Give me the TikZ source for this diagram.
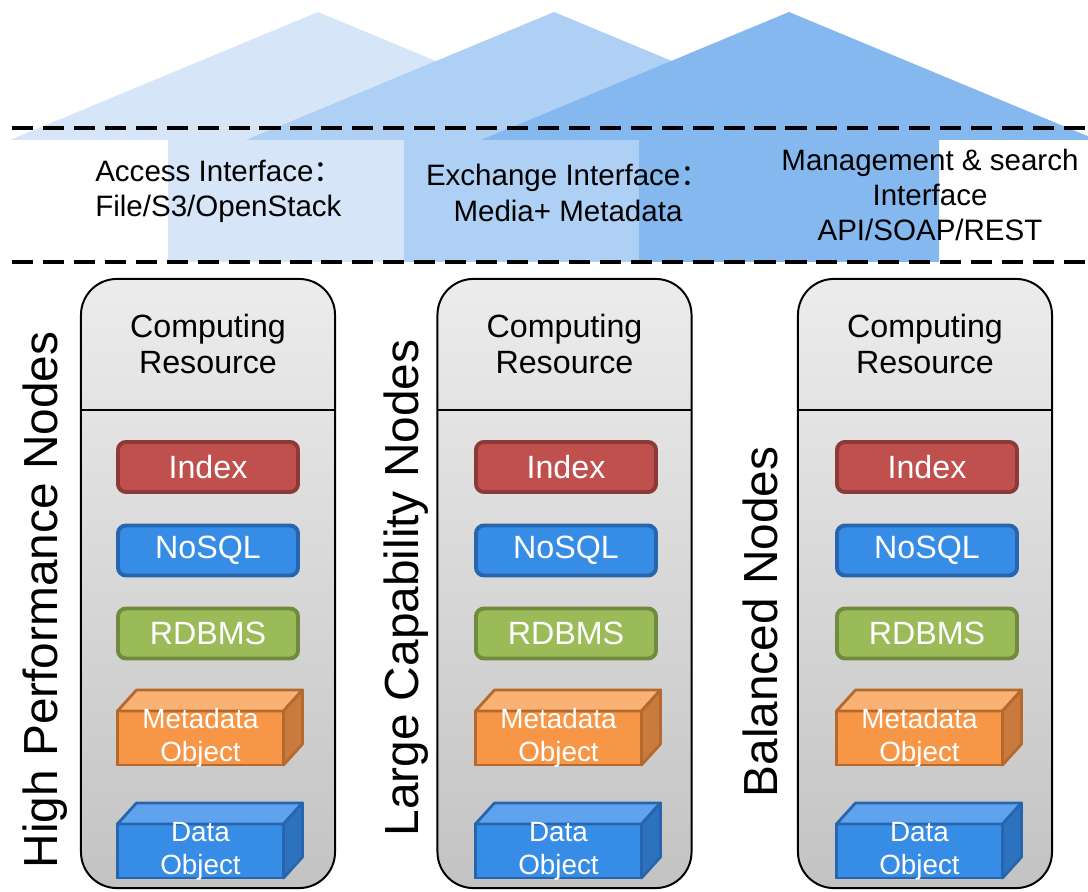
\documentclass[tikz,border=0pt]{standalone}
\usepackage{fontspec}
\setmainfont{Liberation Sans}
\newfontfamily\cjk{Noto Sans CJK SC}
\usepackage{xcolor}
\usepackage{tikz}
\usetikzlibrary{arrows,positioning,shapes}

\definecolor{arrowA}{HTML}{D6E6F8}
\definecolor{arrowB}{HTML}{AED0F4}
\definecolor{arrowC}{HTML}{86B8F0}
\definecolor{colTop}{HTML}{ECECEC}
\definecolor{colBot}{HTML}{C3C3C3}
\definecolor{indexFill}{HTML}{C0504D}
\definecolor{indexLine}{HTML}{8C3A38}
\definecolor{nosqlFill}{HTML}{378DE6}
\definecolor{nosqlLine}{HTML}{2765AE}
\definecolor{rdbmsFill}{HTML}{9BBB59}
\definecolor{rdbmsLine}{HTML}{718B3E}
\definecolor{metaFront}{HTML}{F79646}
\definecolor{metaTop}{HTML}{FAB274}
\definecolor{metaSide}{HTML}{C87B3C}
\definecolor{metaLine}{HTML}{B5692F}
\definecolor{dataFront}{HTML}{378DE6}
\definecolor{dataTop}{HTML}{5FA3EE}
\definecolor{dataSide}{HTML}{2D72BF}
\definecolor{dataLine}{HTML}{2766AF}

% cuboid: name, position, colour set, text
\newcommand{\cuboid}[4]{%
    \node [cube, fill=#3Front, draw=#3Line] (#1) at #2 {};
    \filldraw [fill=#3Top, draw=#3Line, line width=2pt, line join=round] (#1.north west) -- ++(19,-21) -- ++(166,0) -- (#1.north east) -- cycle;
    \filldraw [fill=#3Side, draw=#3Line, line width=2pt, line join=round] (#1.north east) -- ++(19,-21) -- ++(0,54) -- (#1.south east) -- cycle;
    \node [cubetext] (#1text) at (#1) {#4};
}

\begin{document}
\begin{tikzpicture}[x=0.025cm, y=-0.025cm]
    % Define styles
    \tikzstyle{column} = [rectangle, draw, line width=1.4pt, rounded corners=0.9cm, minimum width=6.35cm, minimum height=15.225cm, top color=colTop, bottom color=colBot]
    \tikzstyle{header} = [rectangle, minimum width=6.35cm, minimum height=3.3cm, inner sep=0pt, align=center, font=\fontsize{22.9}{26}\selectfont]
    \tikzstyle{store} = [rectangle, rounded corners=0.2cm, line width=2.8pt, minimum width=4.5cm, minimum height=1.25cm, text=white, font=\fontsize{22.9}{26}\selectfont]
    \tikzstyle{cube} = [rectangle, line width=2pt, outer sep=0pt, minimum width=4.15cm, minimum height=1.35cm]
    \tikzstyle{cubetext} = [align=center, text=white, inner sep=0pt, font=\fontsize{19.8}{23.5}\selectfont]
    \tikzstyle{dashline} = [line width=2.8pt, dash pattern=on 15pt off 7pt]
    \tikzstyle{vlabel} = [rotate=90, anchor=base, inner sep=0pt, font=\fontsize{34}{40}\selectfont]
    \tikzstyle{iface} = [inner sep=0pt, font=\fontsize{21}{25}\selectfont]

    \useasboundingbox (0,0) rectangle (1088,892);

    % Arrows
    \fill [arrowA] (168,262) -- (168,140) -- (10,140) -- (318,12) -- (626,140) -- (468,140) -- (468,262) -- cycle;
    \fill [arrowB] (404,262) -- (404,140) -- (246,140) -- (554,12) -- (862,140) -- (704,140) -- (704,262) -- cycle;
    \fill [arrowC] (639,262) -- (639,140) -- (481,140) -- (789,12) -- (1097,140) -- (939,140) -- (939,262) -- cycle;

    % Dashed lines
    \coordinate (d1a) at (12,128);
    \coordinate (d1b) at (1088,128);
    \coordinate (d2a) at (12,262);
    \coordinate (d2b) at (1088,262);
    \draw [dashline] (d1a) -- (d1b);
    \draw [dashline] (d2a) -- (d2b);

    % Interfaces
    \node [iface, anchor=west, align=left] (access) at (95,191) {Access Interface{\cjk ：}\\File/S3/OpenStack};
    \node [iface, align=center] (exchange) at (568,193) {Exchange Interface{\cjk ：}\\Media+ Metadata};
    \node [iface, align=center] (manage) at (930,195) {Management \& search\\Interface\\API/SOAP/REST};

    % Columns
    \node [column] (col1) at (208,583.5) {};
    \node [column] (col2) at (564.5,583.5) {};
    \node [column] (col3) at (925,583.5) {};

    \node [header] (hdr1) at (208,344) {Computing\\Resource};
    \node [header] (hdr2) at (564.5,344) {Computing\\Resource};
    \node [header] (hdr3) at (925,344) {Computing\\Resource};
    \draw [line width=1.4pt] (hdr1.south west) -- (hdr1.south east);
    \draw [line width=1.4pt] (hdr2.south west) -- (hdr2.south east);
    \draw [line width=1.4pt] (hdr3.south west) -- (hdr3.south east);

    % Stores
    \node [store, fill=indexFill, draw=indexLine] (index1) at (208,467) {Index};
    \node [store, fill=nosqlFill, draw=nosqlLine] (nosql1) at (208,550.5) {NoSQL};
    \node [store, fill=rdbmsFill, draw=rdbmsLine] (rdbms1) at (208,633.5) {RDBMS};
    \node [store, fill=indexFill, draw=indexLine] (index2) at (566,467) {Index};
    \node [store, fill=nosqlFill, draw=nosqlLine] (nosql2) at (566,550.5) {NoSQL};
    \node [store, fill=rdbmsFill, draw=rdbmsLine] (rdbms2) at (566,633.5) {RDBMS};
    \node [store, fill=indexFill, draw=indexLine] (index3) at (927,467) {Index};
    \node [store, fill=nosqlFill, draw=nosqlLine] (nosql3) at (927,550.5) {NoSQL};
    \node [store, fill=rdbmsFill, draw=rdbmsLine] (rdbms3) at (927,633.5) {RDBMS};

    % Objects
    \cuboid{meta1}{(200.5,738)}{meta}{Metadata\\Object}
    \cuboid{data1}{(200.5,851)}{data}{Data\\Object}
    \cuboid{meta2}{(558.5,738)}{meta}{Metadata\\Object}
    \cuboid{data2}{(558.5,851)}{data}{Data\\Object}
    \cuboid{meta3}{(919.5,738)}{meta}{Metadata\\Object}
    \cuboid{data3}{(919.5,851)}{data}{Data\\Object}

    % Node types
    \node [vlabel] (hpn) at (58,600) {High Performance Nodes};
    \node [vlabel] (lcn) at (418,588) {Large Capability Nodes};
    \node [vlabel] (bln) at (777,622) {Balanced Nodes};
\end{tikzpicture}
\end{document}
